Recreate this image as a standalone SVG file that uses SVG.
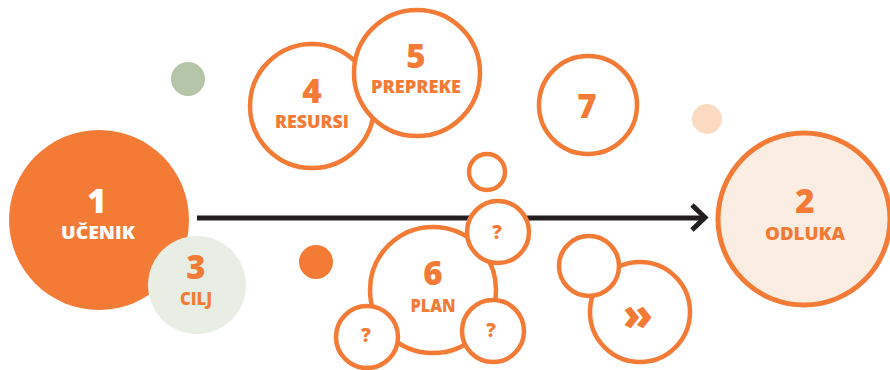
<svg xmlns="http://www.w3.org/2000/svg" width="890" height="370" viewBox="0 0 890 370">
<style>
.ring{fill:#fff;stroke:#F37B35;stroke-width:4.5}
.num{font-family:"Open Sans","Liberation Sans",sans-serif;font-weight:800;fill:#F37B35;text-anchor:middle}
.lbl{font-family:"Open Sans","Liberation Sans",sans-serif;font-weight:800;fill:#F37B35;text-anchor:middle;font-size:17.5px}
.w{fill:#fff}
</style>
<rect width="890" height="370" fill="#fff"/>
<g id="dot-green"><circle cx="188" cy="79" r="17" fill="#B5C5A7"/></g>
<g id="dot-peach"><circle cx="707" cy="119" r="15" fill="#FCD9C1"/></g>
<g id="dot-orange"><circle cx="316" cy="262" r="17" fill="#F37B35"/></g>
<g id="n1"><circle cx="99" cy="220" r="90" fill="#F37B35"/>
<text class="num w" x="97" y="213" font-size="33">1</text>
<text class="lbl w" x="98" y="239" textLength="74" lengthAdjust="spacingAndGlyphs">UČENIK</text></g>
<g id="n3"><circle cx="197" cy="285" r="49" fill="#E8EEE3"/>
<text class="num" x="196" y="279" font-size="33">3</text>
<text class="lbl" x="196" y="305" textLength="32" lengthAdjust="spacingAndGlyphs">CILJ</text></g>
<g id="n4"><circle class="ring" cx="312" cy="106" r="62"/>
<text class="num" x="312" y="103" font-size="33">4</text>
<text class="lbl" x="312" y="128" textLength="74" lengthAdjust="spacingAndGlyphs">RESURSI</text></g>
<g id="n5"><circle class="ring" cx="417" cy="73" r="63"/>
<text class="num" x="416" y="68" font-size="33">5</text>
<text class="lbl" x="416" y="93" textLength="90" lengthAdjust="spacingAndGlyphs">PREPREKE</text></g>
<g id="n7"><circle class="ring" cx="588" cy="105" r="49"/>
<text class="num" x="587" y="118" font-size="33">7</text></g>
<g id="connectors">
<line x1="197" y1="218" x2="704" y2="218" stroke="#231F20" stroke-width="5"/>
<polyline points="692,205 705,217.5 692,230" fill="none" stroke="#231F20" stroke-width="5"/>
</g>
<g id="n2"><circle cx="804" cy="219" r="86" fill="#FCEDE3" stroke="#F37B35" stroke-width="5"/>
<text class="num" x="805" y="213" font-size="33">2</text>
<text class="lbl" x="805" y="240" textLength="80" lengthAdjust="spacingAndGlyphs">ODLUKA</text></g>
<g id="small-top"><circle class="ring" cx="487" cy="172" r="18"/></g>
<g id="n6"><circle class="ring" cx="433" cy="290" r="63"/>
<text class="num" x="433" y="285" font-size="33">6</text>
<text class="lbl" x="433" y="312" textLength="45" lengthAdjust="spacingAndGlyphs">PLAN</text></g>
<g id="q1"><circle class="ring" cx="498" cy="232" r="31"/>
<text class="num" x="497" y="239" font-size="19">?</text></g>
<g id="q2"><circle class="ring" cx="367" cy="337" r="31"/>
<text class="num" x="366" y="342" font-size="19">?</text></g>
<g id="q3"><circle class="ring" cx="493" cy="331" r="31"/>
<text class="num" x="491" y="337" font-size="19">?</text></g>
<g id="next"><circle class="ring" cx="640" cy="312" r="50"/>
<text class="num" x="638" y="330" font-size="44">»</text></g>
<g id="small-next"><circle class="ring" cx="589" cy="266" r="30"/></g>
</svg>
